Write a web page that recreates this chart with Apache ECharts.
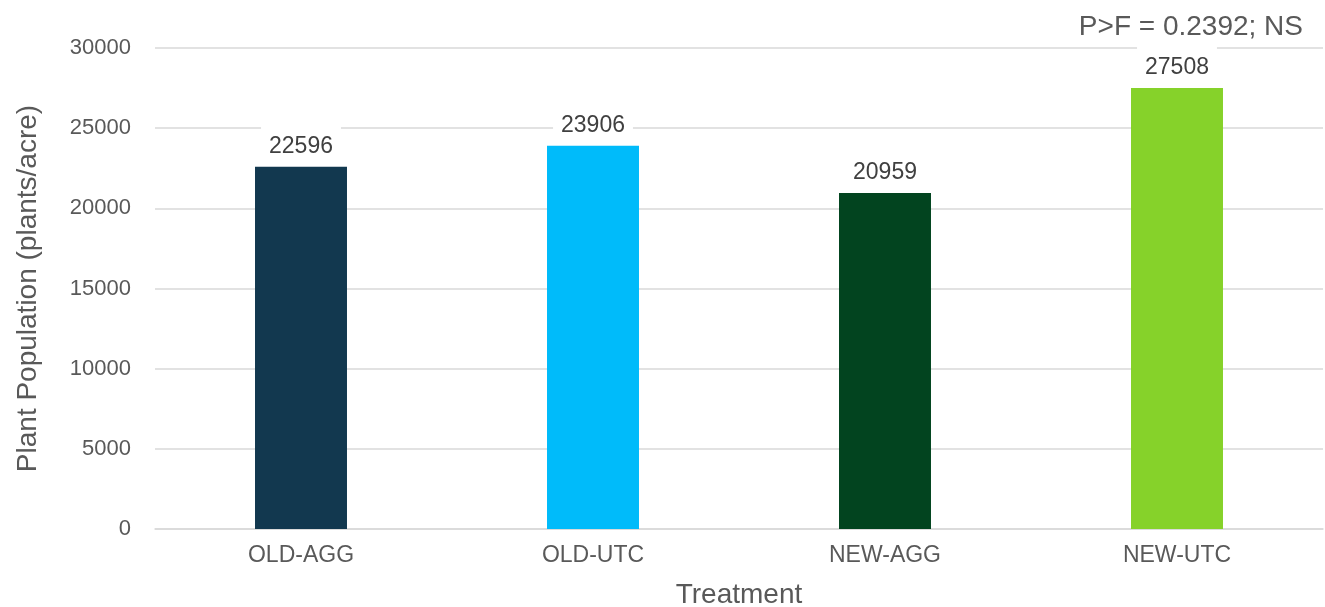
<!DOCTYPE html>
<html>
<head>
<meta charset="utf-8">
<script src="https://cdn.jsdelivr.net/npm/echarts@6/dist/echarts.min.js"></script>
<style>
  html, body { margin: 0; padding: 0; background: #fff; }
  #chart { width: 1325px; height: 607px; }
</style>
</head>
<body>
<div id="chart"></div>
<script>
// Plant population by tillage treatment
const treatments = ['OLD-AGG', 'OLD-UTC', 'NEW-AGG', 'NEW-UTC'];
const population = [22596, 23906, 20959, 27508];
const barColors = ['#12384F', '#00BBFA', '#02441F', '#86D22A'];
const statNote = 'P>F = 0.2392; NS';

const FONT = '"Liberation Sans", Arial, sans-serif';
const chart = echarts.init(document.getElementById('chart'));

chart.setOption({
  animation: false,
  textStyle: { fontFamily: FONT },
  title: {
    text: statNote,
    right: 17,
    top: 8,
    textStyle: { fontFamily: FONT, fontSize: 28, fontWeight: 'normal', color: '#595959' }
  },
  grid: { left: 155, right: 2, top: 48, bottom: 78, outerBoundsMode: 'none' },
  xAxis: {
    type: 'category',
    data: treatments,
    name: 'Treatment',
    nameLocation: 'middle',
    nameGap: 52,
    nameTextStyle: { fontFamily: FONT, fontSize: 28, color: '#595959' },
    axisLine: { lineStyle: { color: '#D9D9D9', width: 1.5 } },
    axisTick: { show: false },
    axisLabel: { fontFamily: FONT, fontSize: 23, color: '#595959', margin: 15 }
  },
  yAxis: {
    type: 'value',
    min: 0,
    max: 30000,
    interval: 5000,
    name: 'Plant Population (plants/acre)',
    nameLocation: 'middle',
    nameGap: 113,
    nameTextStyle: { fontFamily: FONT, fontSize: 28, color: '#595959' },
    axisLine: { show: false },
    axisTick: { show: false },
    axisLabel: {
      fontFamily: FONT, fontSize: 22, color: '#595959', margin: 24,
      formatter: v => String(v)
    },
    splitLine: { lineStyle: { color: '#D9D9D9', width: 1.5 } }
  },
  series: [{
    type: 'bar',
    barWidth: '31.5%',
    data: population.map((v, i) => ({ value: v, itemStyle: { color: barColors[i] } })),
    label: {
      show: true,
      position: 'top',
      distance: 4,
      fontFamily: FONT,
      fontSize: 23,
      color: '#404040',
      backgroundColor: '#FFFFFF',
      padding: [10, 8, 5, 8]
    },
    z: 3
  }]
});
</script>
</body>
</html>
